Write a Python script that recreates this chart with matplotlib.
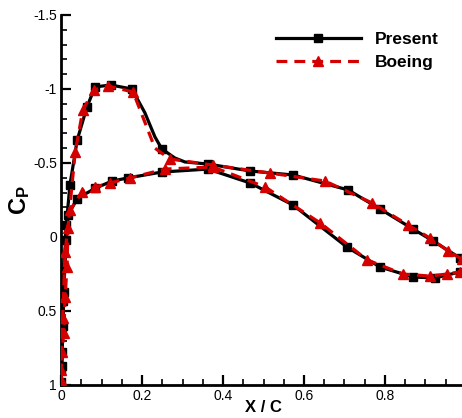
import matplotlib.pyplot as plt
from matplotlib.ticker import MultipleLocator, FixedLocator, FuncFormatter

plt.rcParams['font.family'] = ['Liberation Sans', 'DejaVu Sans']
plt.rcParams['mathtext.fontset'] = 'custom'
plt.rcParams['mathtext.bf'] = 'Liberation Sans:bold'
plt.rcParams['mathtext.rm'] = 'Liberation Sans'

# Data, TE upper -> LE -> TE lower
present_x = [0.985, 0.919, 0.869, 0.788, 0.709, 0.573, 0.467, 0.363, 0.306, 0.281,
             0.249, 0.232, 0.207, 0.175, 0.123, 0.084, 0.064, 0.040, 0.022, 0.013,
             0.008, 0.005, 0.003, 0.002, 0.001, 0.000,
             0.002, 0.004, 0.007, 0.012, 0.018, 0.040, 0.085, 0.126, 0.165, 0.249,
             0.363, 0.467, 0.573, 0.706, 0.788, 0.869, 0.923, 0.985]
present_cp = [0.142, 0.027, -0.054, -0.189, -0.318, -0.419, -0.446, -0.493, -0.507, -0.534,
              -0.595, -0.676, -0.840, -1.000, -1.027, -1.014, -0.878, -0.655, -0.351, -0.080,
              0.200, 0.430, 0.610, 0.780, 0.900, 0.980,
              0.870, 0.600, 0.370, 0.020, -0.150, -0.260, -0.330, -0.378, -0.399, -0.439,
              -0.459, -0.365, -0.216, 0.068, 0.203, 0.270, 0.277, 0.236]
present_marks = [i for i in range(len(present_x)) if i not in (8, 9, 11, 12)]

boeing_x = [0.990, 0.956, 0.911, 0.857, 0.768, 0.652, 0.516, 0.375, 0.269, 0.232,
            0.215, 0.178, 0.116, 0.081, 0.054, 0.035, 0.017, 0.015, 0.010, 0.007,
            0.002, 0.001, 0.000,
            0.004, 0.010, 0.022, 0.052, 0.084, 0.121, 0.170, 0.257, 0.375, 0.504,
            0.640, 0.756, 0.844, 0.911, 0.953, 0.985]
boeing_cp = [0.150, 0.095, 0.007, -0.081, -0.230, -0.378, -0.432, -0.486, -0.527, -0.600,
             -0.720, -0.980, -1.020, -0.993, -0.858, -0.574, -0.060, 0.200, 0.405, 0.650,
             0.780, 0.900, 0.966,
             0.550, 0.100, -0.180, -0.304, -0.338, -0.365, -0.399, -0.459, -0.473, -0.338,
             -0.095, 0.155, 0.250, 0.264, 0.250, 0.236]
boeing_marks = [i for i in range(len(boeing_x)) if i not in (9, 10)]

x_ticks = [0, 0.2, 0.4, 0.6, 0.8]

fig = plt.figure(figsize=(4.62, 4.18), dpi=100)
ax = fig.add_axes([61 / 462, 33 / 418, 405 / 462, 370 / 418])

ax.plot(present_x, present_cp, color='black', lw=2.3, marker='s', ms=6,
        markevery=present_marks, label='Present', zorder=2)
ax.plot(boeing_x, boeing_cp, color='#d40000', lw=2.3, ls=(0, (3.4, 2.2)), marker='^', ms=7,
        markevery=boeing_marks, label='Boeing', zorder=3)

ax.set_xlim(0, 1)
ax.set_ylim(1, -1.5)
ax.xaxis.set_major_locator(FixedLocator(x_ticks))
ax.xaxis.set_minor_locator(MultipleLocator(0.05))
ax.yaxis.set_major_locator(MultipleLocator(0.5))
ax.yaxis.set_minor_locator(MultipleLocator(0.1))
ax.xaxis.set_major_formatter(FuncFormatter(lambda v, p: '%g' % round(v, 2)))
ax.yaxis.set_major_formatter(FuncFormatter(lambda v, p: '%g' % round(v, 2)))

for s in ['top', 'right']:
    ax.spines[s].set_visible(False)
for s in ['left', 'bottom']:
    ax.spines[s].set_linewidth(2)
ax.tick_params(which='major', direction='in', length=7, width=1.6, labelsize=10, pad=3)
ax.tick_params(which='minor', direction='in', length=4, width=1.2)

ax.set_xlabel('X / C', fontsize=12, fontweight='bold', labelpad=-2)
ax.set_ylabel(r'$\mathbf{C_P}$', fontsize=17, labelpad=1)

ax.legend(loc='upper left', bbox_to_anchor=(260 / 462, 1 - 16 / 418),
          bbox_transform=fig.transFigure, frameon=False, numpoints=1,
          handlelength=4.9, handletextpad=0.8, labelspacing=0.45,
          prop={'weight': 'bold', 'size': 12.5})

plt.savefig('out.png', dpi=100)
